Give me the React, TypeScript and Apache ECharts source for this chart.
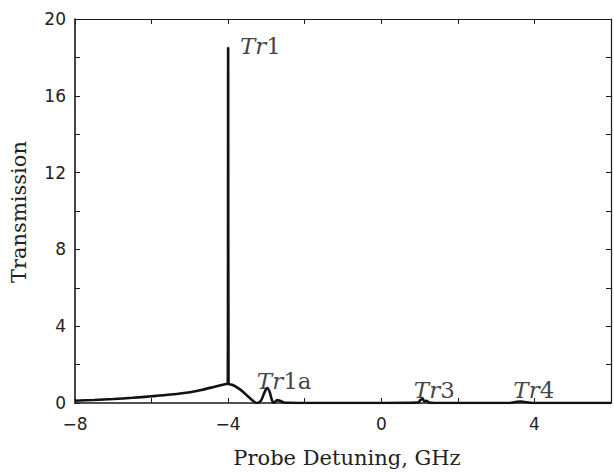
import React, { useEffect, useRef } from "react";
import * as echarts from "echarts";

// Probe detuning (GHz) and transmission values
const detuning = [
  -8, -7.5, -7, -6.5, -6, -5.5, -5, -4.7, -4.4, -4.2, -4.05, -4.01, -4.0, -3.99,
  -3.9, -3.8, -3.7, -3.6, -3.5, -3.4, -3.3, -3.25, -3.15, -3.05, -2.98, -2.92,
  -2.85, -2.8, -2.72, -2.65, -2.55, -2.4, -2, 0, 0.95, 1.02, 1.08, 1.13, 1.18,
  1.25, 1.4, 3.3, 3.5, 3.65, 3.8, 4.0, 6,
];
const transmission = [
  0.12, 0.16, 0.21, 0.27, 0.35, 0.44, 0.56, 0.68, 0.82, 0.92, 0.99, 1.0, 18.5, 1.0,
  0.95, 0.85, 0.72, 0.56, 0.38, 0.2, 0.04, 0.0, 0.1, 0.55, 0.78, 0.6,
  0.12, 0.02, 0.15, 0.12, 0.03, 0.01, 0, 0, 0.02, 0.15, 0.22, 0.08, 0.12,
  0.02, 0, 0, 0.05, 0.08, 0.04, 0, 0,
];

// Peak annotations
const peakLabels = ["Tr1", "Tr1a", "Tr3", "Tr4"];
const peakLabelX = [-3.69, -3.25, 0.85, 3.45];
const peakLabelY = [18.6, 1.15, 0.7, 0.7];

const xMin = -8;
const xMax = 6;
const yMin = 0;
const yMax = 20;

export default function App() {
  const ref = useRef<HTMLDivElement>(null);

  useEffect(() => {
    if (!ref.current) return;
    const chart = echarts.init(ref.current, null, { renderer: "svg" });
    const axisColor = "#1a1a1a";
    const tickFont = { fontFamily: "DejaVu Sans", fontSize: 17, color: "#222" };
    const serif = "DejaVu Serif";

    const curve = detuning.map((x, i) => [x, transmission[i]]);
    const labelData = peakLabels.map((n, i) => ({
      name: n,
      value: [peakLabelX[i], peakLabelY[i]],
    }));

    const frameAxis = {
      type: "value",
      axisLine: { show: true, onZero: false, lineStyle: { color: axisColor, width: 1.2 } },
      axisTick: { inside: true, length: 5, lineStyle: { color: axisColor } },
      axisLabel: { show: false },
      splitLine: { show: false },
    };

    chart.setOption({
      animation: false,
      backgroundColor: "#fff",
      grid: { left: 75, top: 19, right: -4, bottom: 71, containLabel: false },
      xAxis: [
        {
          type: "value",
          min: xMin,
          max: xMax,
          interval: 2,
          axisLine: { show: true, onZero: false, lineStyle: { color: axisColor, width: 1.6 } },
          axisTick: { inside: true, length: 5, lineStyle: { color: axisColor } },
          axisLabel: {
            ...tickFont,
            margin: 12,
            formatter: (v: number) =>
              v % 4 === 0 ? (v < 0 ? "\u2212" + Math.abs(v) : String(v)) : "",
          },
          splitLine: { show: false },
        },
        { ...frameAxis, position: "top", min: xMin, max: xMax, interval: 2 },
      ],
      yAxis: [
        {
          type: "value",
          min: yMin,
          max: yMax,
          interval: 2,
          axisLine: { show: true, onZero: false, lineStyle: { color: axisColor, width: 1.6 } },
          axisTick: { inside: true, length: 5, lineStyle: { color: axisColor } },
          axisLabel: {
            ...tickFont,
            margin: 9,
            formatter: (v: number) => (v % 4 === 0 ? String(v) : ""),
          },
          splitLine: { show: false },
        },
        { ...frameAxis, position: "right", min: yMin, max: yMax, interval: 2 },
      ],
      graphic: [
        {
          type: "text",
          x: 347,
          y: 458,
          style: {
            text: "Probe Detuning, GHz",
            fontFamily: serif,
            fontSize: 21,
            fill: "#222",
            align: "center",
            verticalAlign: "middle",
          },
        },
        {
          type: "text",
          x: 19,
          y: 212,
          rotation: Math.PI / 2,
          style: {
            text: "Transmission",
            fontFamily: serif,
            fontSize: 21,
            fill: "#222",
            align: "center",
            verticalAlign: "middle",
          },
        },
      ],
      series: [
        {
          type: "line",
          data: curve,
          showSymbol: false,
          symbol: "none",
          smooth: 0.3,
          lineStyle: { color: "#111", width: 2.6 },
          silent: true,
          z: 3,
        },
        {
          type: "scatter",
          data: labelData,
          symbolSize: 0,
          silent: true,
          label: {
            show: true,
            position: "right",
            distance: 0,
            formatter: (p: any) => `{i|Tr}{n|${p.name.slice(2)}}`,
            rich: {
              i: { fontFamily: serif, fontStyle: "italic", fontSize: 23, color: "#111" },
              n: { fontFamily: serif, fontSize: 23, color: "#111" },
            },
          },
          z: 4,
        },
      ],
    });

    return () => chart.dispose();
  }, []);

  return (
    <div
      style={{ position: "absolute", left: 0, top: 0, width: 614, height: 474, overflow: "hidden" }}
    >
      <div ref={ref} style={{ width: 614, height: 474 }} />
    </div>
  );
}
